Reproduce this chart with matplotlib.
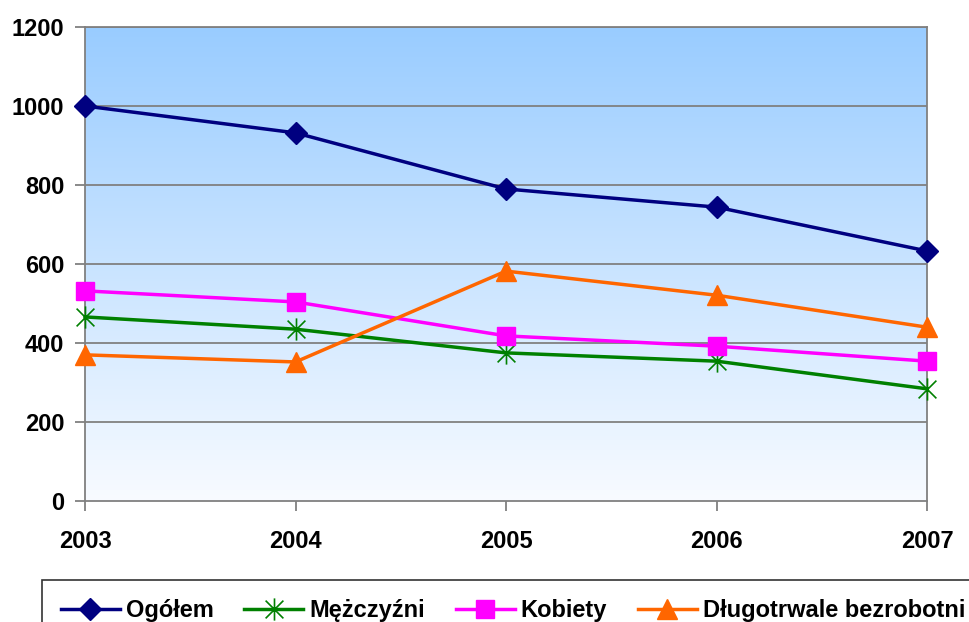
import matplotlib.pyplot as plt
import numpy as np
from matplotlib.path import Path

# Data
years = [2003, 2004, 2005, 2006, 2007]
ogolem = [1000, 932, 790, 744, 633]
mezczyzni = [466, 435, 375, 354, 284]
kobiety = [532, 504, 418, 392, 354]
dlugotrwale = [370, 352, 582, 521, 440]
labels = ['Ogółem', 'Mężczyźni', 'Kobiety', 'Długotrwale bezrobotni']
yticks = [0, 200, 400, 600, 800, 1000, 1200]

plt.rcParams['font.family'] = ['Liberation Sans', 'DejaVu Sans']
plt.rcParams['font.weight'] = 'bold'

# Excel style star marker: X plus vertical line
star = Path([(-0.8, -0.8), (0.8, 0.8), (-0.8, 0.8), (0.8, -0.8), (0, -1), (0, 1)],
            [Path.MOVETO, Path.LINETO, Path.MOVETO, Path.LINETO, Path.MOVETO, Path.LINETO])

fig = plt.figure(figsize=(9.69, 6.22), dpi=100)
ax = fig.add_axes([85 / 969, 1 - 501 / 622, (927 - 85) / 969, (501 - 27) / 622])

# gradient background
grad = np.linspace(0, 1, 256).reshape(-1, 1)
top = np.array([0x99, 0xCC, 0xFF]) / 255
bottom = np.array([0xF8, 0xFB, 0xFF]) / 255
img = bottom + (top - bottom) * grad[..., None]
ax.imshow(img, extent=[0, 1, 0, 1], transform=ax.transAxes, origin='lower',
          aspect='auto', zorder=0)

for y in yticks[1:]:
    ax.axhline(y, color='#808080', lw=1.3, zorder=1)

lw = 2.5
ax.plot(years, ogolem, color='#000080', lw=lw, marker='D', ms=11, label=labels[0],
        clip_on=False, zorder=5)
ax.plot(years, mezczyzni, color='#008000', lw=lw, marker=star, ms=16, mew=1.2,
        label=labels[1], clip_on=False, zorder=4)
ax.plot(years, kobiety, color='#FF00FF', lw=lw, marker='s', ms=13, label=labels[2],
        clip_on=False, zorder=4)
ax.plot(years, dlugotrwale, color='#FF6600', lw=lw, marker='^', ms=15, label=labels[3],
        clip_on=False, zorder=4)

ax.set_xlim(2003, 2007)
ax.set_ylim(0, 1200)
ax.set_xticks(years)
ax.set_yticks(yticks)
ax.tick_params(axis='both', labelsize=17, color='#808080', width=1.3, length=7)
ax.tick_params(axis='x', pad=14)
ax.tick_params(axis='y', pad=8)
for lab in ax.get_xticklabels() + ax.get_yticklabels():
    lab.set_fontweight('bold')
for s in ax.spines.values():
    s.set_color('#808080')
    s.set_linewidth(1.3)

leg = fig.legend(loc='upper left', bbox_to_anchor=(42 / 969, 1 - 580 / 622), ncol=4,
                 prop={'size': 17, 'weight': 'bold'}, frameon=True, fancybox=False,
                 handlelength=2.5, handletextpad=0.25, columnspacing=1.3,
                 borderaxespad=0, borderpad=0.8)
leg.get_frame().set_edgecolor('black')
leg.get_frame().set_linewidth(1.2)

fig.savefig('out.png', dpi=100)
